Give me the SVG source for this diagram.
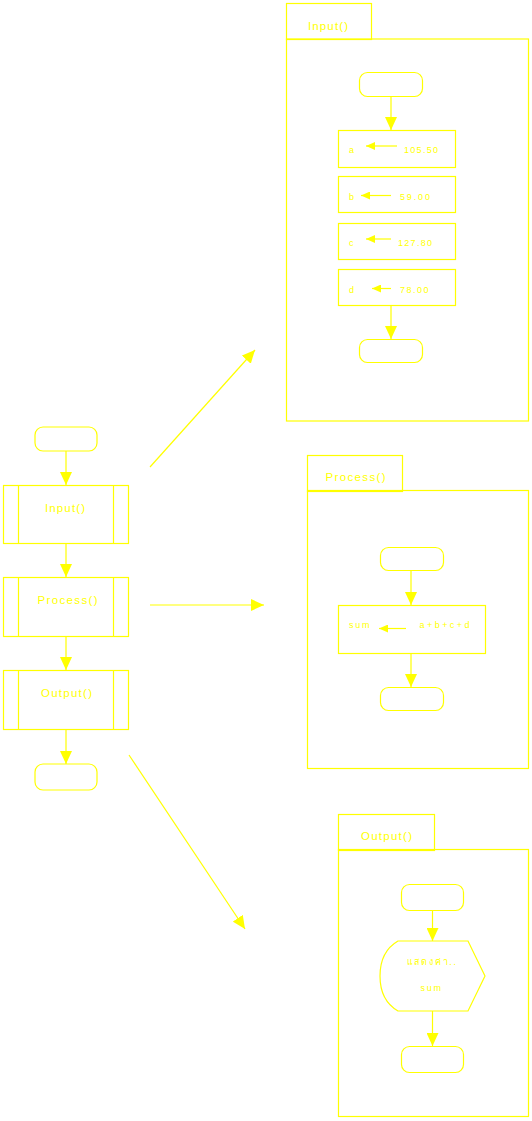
<svg xmlns="http://www.w3.org/2000/svg" width="532" height="1121" viewBox="0 0 532 1121">
<style>
.s{fill:none;stroke:#ffff00;stroke-width:1.2}
.w{fill:#ffffff;stroke:#ffff00;stroke-width:1.2}
.c{fill:none;stroke:#ffff00;stroke-width:1.2}
.t{font-family:"Liberation Sans",Arial,sans-serif;font-size:11.5px;fill:#ffff00}
.m{font-family:"Liberation Sans",Arial,sans-serif;font-size:9px;fill:#ffff00}
.th{font-family:"Noto Sans","DejaVu Sans",sans-serif;font-size:9px;fill:#ffff00}
</style>
<defs>
<marker id="ah" markerUnits="userSpaceOnUse" markerWidth="13" markerHeight="12" refX="13" refY="6" orient="auto">
<path d="M0,0 L13,6 L0,12 Z" fill="#ffff00"/>
</marker>
<marker id="as" markerUnits="userSpaceOnUse" markerWidth="9" markerHeight="8" refX="9" refY="4" orient="auto">
<path d="M0,0 L9,4 L0,8 Z" fill="#ffff00"/>
</marker>
</defs>

<g id="connectors">
<line class="c" x1="66" y1="451" x2="66" y2="485" marker-end="url(#ah)"/>
<line class="c" x1="66" y1="543" x2="66" y2="577" marker-end="url(#ah)"/>
<line class="c" x1="66" y1="636" x2="66" y2="670" marker-end="url(#ah)"/>
<line class="c" x1="66" y1="729" x2="66" y2="764" marker-end="url(#ah)"/>
<line class="c" x1="150" y1="467" x2="255" y2="350" marker-end="url(#ah)"/>
<line class="c" x1="150" y1="605" x2="264" y2="605" marker-end="url(#ah)"/>
<line class="c" x1="129" y1="755" x2="245" y2="929" marker-end="url(#ah)"/>
<line class="c" x1="391" y1="97" x2="391" y2="130" marker-end="url(#ah)"/>
<line class="c" x1="391" y1="305" x2="391" y2="339" marker-end="url(#ah)"/>
<line class="c" x1="411" y1="570" x2="411" y2="605" marker-end="url(#ah)"/>
<line class="c" x1="411" y1="653" x2="411" y2="687" marker-end="url(#ah)"/>
<line class="c" x1="432.5" y1="910" x2="432.5" y2="941" marker-end="url(#ah)"/>
<line class="c" x1="432.5" y1="1011" x2="432.5" y2="1046" marker-end="url(#ah)"/>
</g>

<g id="main-start"><rect class="w" x="35" y="427" width="62" height="24" rx="8"/></g>
<g id="main-input">
<rect class="w" x="3.5" y="485.5" width="125" height="58"/>
<line class="s" x1="18.5" y1="485.5" x2="18.5" y2="543.5"/>
<line class="s" x1="113.5" y1="485.5" x2="113.5" y2="543.5"/>
<text class="t" x="45" y="512" textLength="40" lengthAdjust="spacing">Input()</text>
</g>
<g id="main-process">
<rect class="w" x="3.5" y="577.5" width="125" height="59"/>
<line class="s" x1="18.5" y1="577.5" x2="18.5" y2="636.5"/>
<line class="s" x1="113.5" y1="577.5" x2="113.5" y2="636.5"/>
<text class="t" x="37.5" y="604" textLength="60" lengthAdjust="spacing">Process()</text>
</g>
<g id="main-output">
<rect class="w" x="3.5" y="670.5" width="125" height="59"/>
<line class="s" x1="18.5" y1="670.5" x2="18.5" y2="729.5"/>
<line class="s" x1="113.5" y1="670.5" x2="113.5" y2="729.5"/>
<text class="t" x="41" y="697" textLength="51" lengthAdjust="spacing">Output()</text>
</g>
<g id="main-end"><rect class="w" x="35" y="764" width="62" height="26" rx="8"/></g>

<g id="input-frame">
<rect class="s" x="286.5" y="3.5" width="85" height="36"/>
<rect class="s" x="286.5" y="39" width="242" height="382"/>
<text class="t" x="308" y="30" textLength="40" lengthAdjust="spacing">Input()</text>
</g>
<g id="input-start"><rect class="w" x="359.5" y="72.5" width="63" height="24" rx="8"/></g>
<g id="assign-a">
<rect class="w" x="338.5" y="130.5" width="117" height="37"/>
<text class="m" x="349" y="153">a</text>
<line class="c" x1="397" y1="146" x2="366" y2="146" marker-end="url(#as)"/>
<text class="m" x="404" y="153" textLength="34" lengthAdjust="spacing">105.50</text>
</g>
<g id="assign-b">
<rect class="w" x="338.5" y="176.5" width="117" height="36"/>
<text class="m" x="349" y="200">b</text>
<line class="c" x1="391" y1="195.5" x2="361" y2="195.5" marker-end="url(#as)"/>
<text class="m" x="400" y="200" textLength="30" lengthAdjust="spacing">59.00</text>
</g>
<g id="assign-c">
<rect class="w" x="338.5" y="223.5" width="117" height="36"/>
<text class="m" x="349" y="246">c</text>
<line class="c" x1="391" y1="239" x2="366" y2="239" marker-end="url(#as)"/>
<text class="m" x="398" y="246" textLength="34" lengthAdjust="spacing">127.80</text>
</g>
<g id="assign-d">
<rect class="w" x="338.5" y="269.5" width="117" height="36"/>
<text class="m" x="349" y="293">d</text>
<line class="c" x1="391" y1="288.5" x2="372" y2="288.5" marker-end="url(#as)"/>
<text class="m" x="400" y="293" textLength="28.5" lengthAdjust="spacing">78.00</text>
</g>
<g id="input-end"><rect class="w" x="359.5" y="339.5" width="63" height="23" rx="8"/></g>

<g id="process-frame">
<rect class="s" x="307.5" y="455.5" width="95" height="36"/>
<rect class="s" x="307.5" y="490.5" width="221" height="278"/>
<text class="t" x="325.5" y="481" textLength="60" lengthAdjust="spacing">Process()</text>
</g>
<g id="process-start"><rect class="w" x="380.5" y="547.5" width="63" height="23" rx="8"/></g>
<g id="process-sum">
<rect class="w" x="338.5" y="605.5" width="147" height="48"/>
<text class="m" x="349" y="628" textLength="20.5" lengthAdjust="spacing">sum</text>
<line class="c" x1="406" y1="628.5" x2="379" y2="628.5" marker-end="url(#as)"/>
<text class="m" x="419.5" y="628" textLength="50" lengthAdjust="spacing">a+b+c+d</text>
</g>
<g id="process-end"><rect class="w" x="380.5" y="687.5" width="63" height="23" rx="8"/></g>

<g id="output-frame">
<rect class="s" x="338.5" y="814.5" width="96" height="36"/>
<rect class="s" x="338.5" y="849.5" width="190" height="267"/>
<text class="t" x="361" y="840" textLength="51" lengthAdjust="spacing">Output()</text>
</g>
<g id="output-start"><rect class="w" x="401.5" y="884.5" width="62" height="26" rx="8"/></g>
<g id="output-display">
<path class="w" d="M398,941 L468,941 L485,976 L468,1011 L398,1011 C386,1004 380,992 380,976 C380,960 386,948 398,941 Z"/>
<text class="th" x="406.5" y="965" textLength="49.5" lengthAdjust="spacing">แสดงค่า..</text>
<text class="m" x="420.5" y="991" textLength="20.5" lengthAdjust="spacing">sum</text>
</g>
<g id="output-end"><rect class="w" x="401.5" y="1046.5" width="62" height="26" rx="8"/></g>
</svg>
